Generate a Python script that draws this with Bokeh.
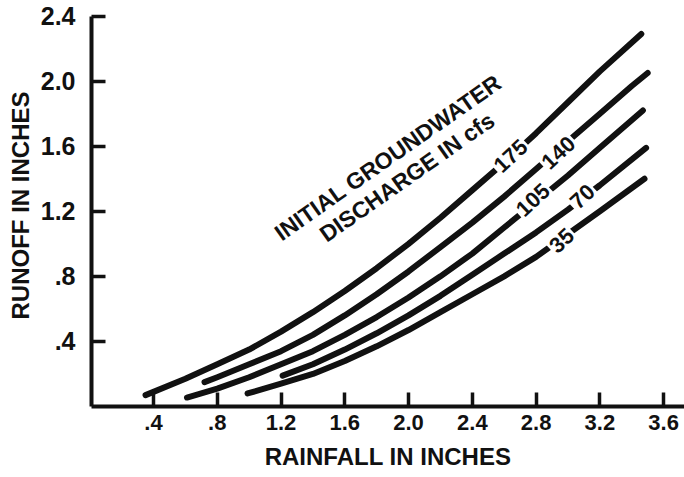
from bokeh.plotting import figure
from bokeh.models import ColumnDataSource, FixedTicker, Range1d
from bokeh.core.properties import value
from bokeh.embed import file_html
from bokeh.resources import INLINE
import math

# ---- data ----
x_ticks = [0.4, 0.8, 1.2, 1.6, 2.0, 2.4, 2.8, 3.2, 3.6]
x_tick_labels = [".4", ".8", "1.2", "1.6", "2.0", "2.4", "2.8", "3.2", "3.6"]
y_ticks = [0.4, 0.8, 1.2, 1.6, 2.0, 2.4]
y_tick_labels = [".4", ".8", "1.2", "1.6", "2.0", "2.4"]

x175 = [0.35, 0.6, 0.8, 1.0, 1.2, 1.4, 1.6, 1.8, 2.0, 2.2, 2.4, 2.6, 2.8, 3.0, 3.2, 3.46]
y175 = [0.07, 0.17, 0.26, 0.35, 0.46, 0.58, 0.71, 0.85, 1.00, 1.16, 1.33, 1.50, 1.68, 1.87, 2.06, 2.29]

x140 = [0.72, 0.8, 1.0, 1.2, 1.4, 1.6, 1.8, 2.0, 2.2, 2.4, 2.6, 2.8, 3.0, 3.2, 3.4, 3.5]
y140 = [0.15, 0.18, 0.26, 0.34, 0.44, 0.56, 0.69, 0.83, 0.98, 1.13, 1.29, 1.46, 1.63, 1.80, 1.97, 2.05]

x105 = [0.61, 0.8, 1.0, 1.2, 1.4, 1.6, 1.8, 2.0, 2.2, 2.4, 2.6, 2.8, 3.0, 3.2, 3.47]
y105 = [0.055, 0.11, 0.18, 0.26, 0.34, 0.44, 0.55, 0.67, 0.80, 0.94, 1.10, 1.26, 1.42, 1.59, 1.82]

x70 = [1.21, 1.4, 1.6, 1.8, 2.0, 2.2, 2.4, 2.6, 2.8, 3.0, 3.2, 3.49]
y70 = [0.19, 0.26, 0.35, 0.45, 0.56, 0.68, 0.81, 0.94, 1.07, 1.21, 1.36, 1.59]

x35 = [0.99, 1.2, 1.4, 1.6, 1.8, 2.0, 2.2, 2.4, 2.6, 2.8, 3.0, 3.2, 3.48]
y35 = [0.08, 0.14, 0.20, 0.28, 0.37, 0.47, 0.58, 0.69, 0.80, 0.92, 1.06, 1.20, 1.40]

curve_names = ["175", "140", "105", "70", "35"]
curve_label_x = [2.64, 2.94, 2.78, 3.09, 2.96]
curve_label_y = [1.54, 1.56, 1.27, 1.29, 1.02]

note_lines = ["INITIAL GROUNDWATER", "DISCHARGE IN cfs"]
note_x = [1.87, 1.99]
note_y = [1.53, 1.41]

FONT = "Liberation Sans"
INK = "#111111"

p = figure(width=684, height=477, output_backend="svg", toolbar_location=None,
           x_range=Range1d(0.011, 3.731), y_range=Range1d(0, 2.471),
           min_border_left=91, min_border_right=0, min_border_top=4, min_border_bottom=71)
p.outline_line_color = None
p.grid.visible = False
p.background_fill_color = "white"
p.border_fill_color = "white"

for xs, ys in [(x175, y175), (x140, y140), (x105, y105), (x70, y70), (x35, y35)]:
    p.line(xs, ys, line_color=INK, line_width=6, line_cap="round", line_join="round")

lab_src = ColumnDataSource(dict(x=curve_label_x, y=curve_label_y, t=curve_names))
p.text(x="x", y="y", text="t", source=lab_src, angle=math.radians(43),
       text_align="center", text_baseline="middle", text_font=value(FONT),
       text_font_style="bold", text_font_size="22px", text_color=INK,
       background_fill_color="white", padding=2)

note_src = ColumnDataSource(dict(x=note_x, y=note_y, t=note_lines))
p.text(x="x", y="y", text="t", source=note_src, angle=math.radians(35),
       text_align="center", text_baseline="middle", text_font=value(FONT),
       text_font_style="bold", text_font_size="23px", text_color=INK)

for ax in (p.xaxis[0], p.yaxis[0]):
    ax.axis_line_width = 4
    ax.axis_line_color = INK
    ax.major_tick_line_width = 3.5
    ax.major_tick_line_color = INK
    ax.major_tick_in = 14
    ax.major_tick_out = 0
    ax.minor_tick_line_color = None
    ax.major_label_text_font = FONT
    ax.major_label_text_font_style = "bold"
    ax.major_label_text_color = INK
    ax.axis_label_text_font = FONT
    ax.axis_label_text_font_style = "bold"
    ax.axis_label_text_font_size = "24px"
    ax.axis_label_text_color = INK

p.xaxis.major_label_text_font_size = "22px"
p.yaxis.major_label_text_font_size = "25px"
p.xaxis.ticker = FixedTicker(ticks=x_ticks)
p.xaxis.major_label_overrides = dict(zip(x_ticks, x_tick_labels))
p.yaxis.ticker = FixedTicker(ticks=y_ticks)
p.yaxis.major_label_overrides = dict(zip(y_ticks, y_tick_labels))
p.xaxis.axis_label = "RAINFALL IN INCHES"
p.yaxis.axis_label = "RUNOFF IN INCHES"
p.xaxis.major_label_standoff = 8
p.yaxis.major_label_standoff = 16
p.xaxis.axis_label_standoff = 10
p.yaxis.axis_label_standoff = 4
p.yaxis.bounds = (0, 2.4)

open("out.html", "w").write(file_html(p, INLINE))
